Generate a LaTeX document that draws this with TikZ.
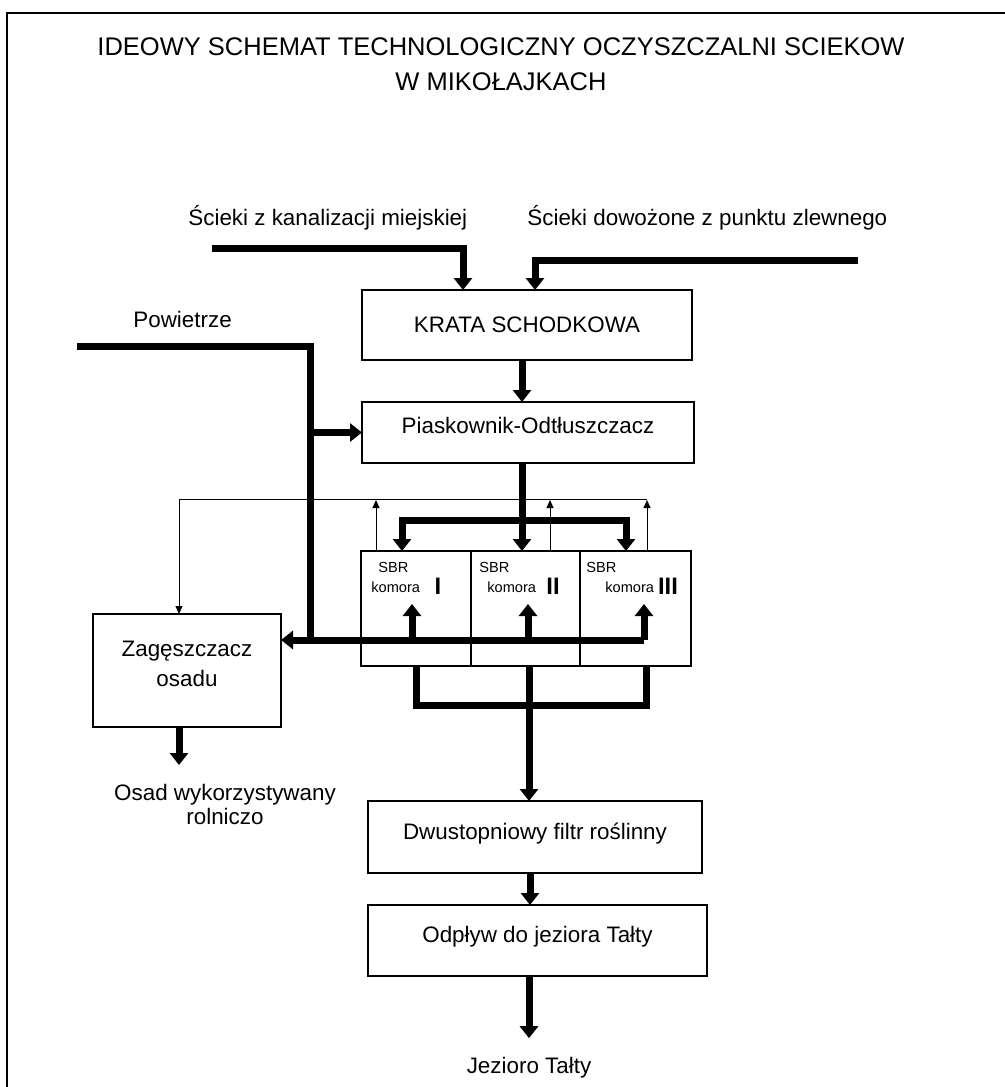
\documentclass[tikz,border=0pt]{standalone}
\usepackage{fontspec}
\setmainfont{Liberation Sans}
\usetikzlibrary{positioning,calc,arrows.meta}

\begin{document}
\begin{tikzpicture}[x=0.5pt, y=-0.5pt,
    box/.style={draw, rectangle, line width=0.7pt, inner sep=0pt, outer sep=0pt, font=\fontsize{11.2}{15}\selectfont},
    pipe/.style={line width=3.5pt},
    flow/.style={line width=3.5pt, -{Triangle[width=9pt,length=6pt]}},
    sludge/.style={line width=0.5pt, -{Triangle[width=3.5pt,length=4pt]}},
    lbl/.style={font=\fontsize{11.2}{12}\selectfont, inner sep=0pt},
    sbrtxt/.style={font=\fontsize{7.3}{8}\selectfont, inner sep=0pt, anchor=west},
    num/.style={font=\fontsize{11.9}{12}\selectfont\bfseries, inner sep=0pt}]

    \useasboundingbox (0,0) rectangle (1005,1087);
    \draw[line width=1pt] (7,1087) -- (7,13) -- (1005,13);

    \node[font=\fontsize{12.75}{17.5}\selectfont, align=center, inner sep=0pt] (title) at (501,64.5) {IDEOWY SCHEMAT TECHNOLOGICZNY OCZYSZCZALNI SCIEKOW\\W MIKOŁAJKACH};

    % Inflows
    \node[lbl, anchor=west] (src1) at (188,218) {Ścieki z kanalizacji miejskiej};
    \node[lbl, anchor=west] (src2) at (527,218) {Ścieki dowożone z punktu zlewnego};
    \node[lbl, anchor=west] (air) at (133,319) {Powietrze};

    % Main line
    \node[box, minimum width=165pt, minimum height=35pt] (krata) at (527,325) {KRATA SCHODKOWA};
    \node[box, minimum width=166pt, minimum height=30.5pt, text depth=7.5pt] (piask) at (528,432.5) {Piaskownik-Odtłuszczacz};

    \node[box, minimum width=55pt, minimum height=57.5pt] (sbr1) at (416,608.5) {};
    \node[box, minimum width=54.5pt, minimum height=57.5pt, right=0pt of sbr1] (sbr2) {};
    \node[box, minimum width=55.5pt, minimum height=57.5pt, right=0pt of sbr2] (sbr3) {};
    \foreach \n/\a/\b/\c/\r in {1/17/10/77/I, 2/8/16/82/II, 3/6/25/88/III} {
        \node[sbrtxt] (sbr\n a) at ($(sbr\n.north west)+(\a,16)$) {SBR};
        \node[sbrtxt] (sbr\n b) at ($(sbr\n.north west)+(\b,36)$) {komora};
        \node[num] (sbr\n c) at ($(sbr\n.north west)+(\c,35)$) {\r};
    }

    \node[box, minimum width=94pt, minimum height=56.5pt, align=center, text depth=6.5pt] (zag) at (187,670.5) {Zagęszczacz\\osadu};
    \node[box, minimum width=167pt, minimum height=36pt, text depth=6pt] (filtr) at (535,837) {Dwustopniowy filtr roślinny};
    \node[box, minimum width=169.5pt, minimum height=35.5pt, text depth=6.5pt] (odplyw) at (537.5,940.5) {Odpływ do jeziora Tałty};

    \node[lbl, align=center] (osad) at (225,804) {Osad wykorzystywany\\rolniczo};
    \node[lbl] (lake) at (529,1068) {Jezioro Tałty};

    % Connections
    \coordinate (in1) at (212,248);
    \coordinate (in2) at (858,260);
    \draw[flow] (in1) -| (krata.north -| 463,0);
    \draw[flow] (in2) -| (krata.north -| 535,0);
    \draw[flow] (krata.south -| 522,0) -- (piask.north -| 522,0);

    % Air
    \coordinate (airin) at (77,346);
    \coordinate (airjoint) at (310,640);
    \coordinate (airend) at (644,640);
    \draw[pipe] (airin) -| (airjoint);
    \draw[flow] (piask.west -| airjoint) -- (piask.west);
    \draw[flow] (airend) -- (zag.east |- airend);
    \foreach \n/\x in {1/412, 2/528, 3/644}
        \draw[flow] (sbr\n.south -| \x,0) ++(0,-26) -- ++(0,-36);

    % Distribution
    \coordinate (split) at (522,520);
    \draw[flow] (piask.south -| split) -- (sbr2.north -| split);
    \draw[flow] (split) -| (sbr1.north -| 402,0);
    \draw[flow] (split) -| (sbr3.north -| 626,0);

    % Sludge return
    \coordinate (ret) at (179,499);
    \draw[line width=0.5pt] (647,499) -- (ret);
    \draw[sludge] (ret) -- (zag.north -| ret);
    \foreach \n/\x in {1/376, 2/550, 3/647}
        \draw[sludge] (sbr\n.north -| \x,0) -- (\x,500);

    % Outflow
    \coordinate (merge) at (529,705);
    \foreach \n/\x in {1/416, 3/646}
        \draw[pipe] (sbr\n.south -| \x,0) |- (merge);
    \draw[flow] (sbr2.south -| merge) -- (filtr.north -| merge);
    \draw[flow] (filtr.south -| 530,0) -- (odplyw.north -| 530,0);
    \draw[flow, shorten >=9.5pt] (odplyw.south -| lake.north) -- (lake.north);

    \coordinate (osadtip) at (179,765);
    \draw[flow] (zag.south -| osadtip) -- (osadtip);
\end{tikzpicture}
\end{document}
